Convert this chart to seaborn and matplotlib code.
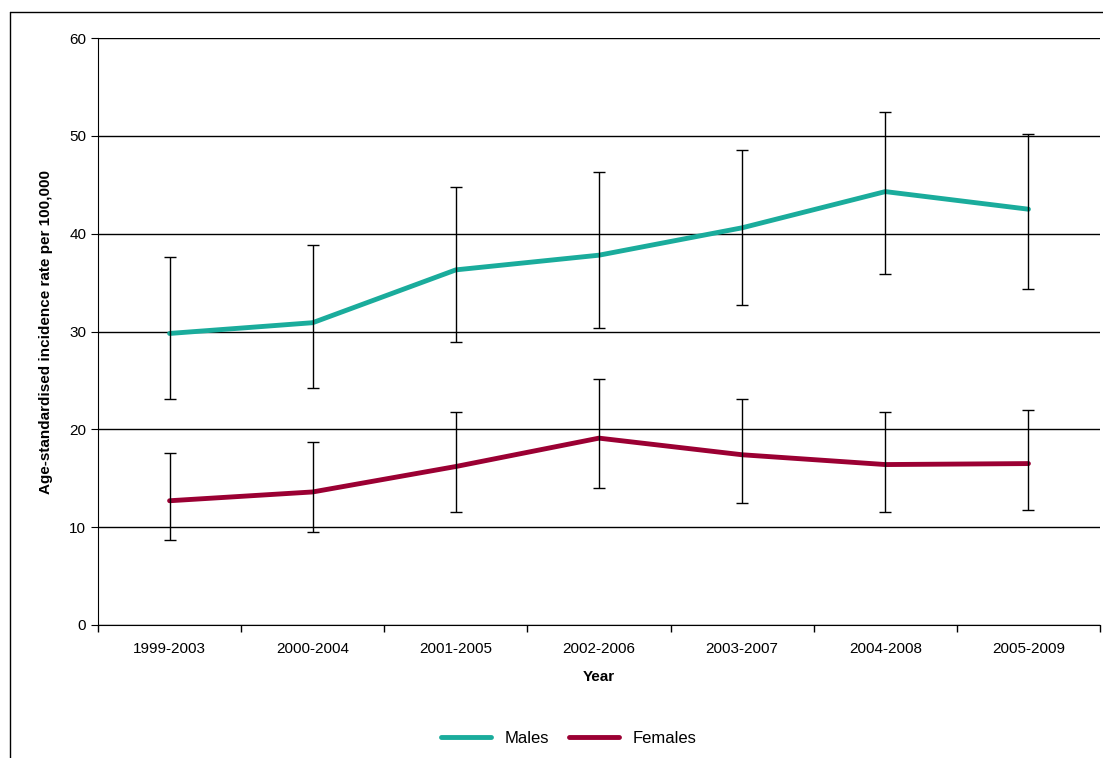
import matplotlib
matplotlib.use("Agg")
import matplotlib.pyplot as plt
import seaborn as sns
import pandas as pd
import numpy as np

years = ["1999-2003","2000-2004","2001-2005","2002-2006","2003-2007","2004-2008","2005-2009"]
males = [29.8, 30.9, 36.3, 37.8, 40.6, 44.3, 42.5]
males_lo = [23.1, 24.2, 28.9, 30.4, 32.7, 35.9, 34.3]
males_hi = [37.6, 38.8, 44.8, 46.3, 48.6, 52.4, 50.2]
females = [12.7, 13.6, 16.2, 19.1, 17.4, 16.4, 16.5]
females_lo = [8.7, 9.5, 11.6, 14.0, 12.5, 11.6, 11.8]
females_hi = [17.6, 18.7, 21.8, 25.1, 23.1, 21.8, 22.0]

sns.set_style("white")
plt.rcParams['font.family'] = ['Liberation Sans', 'DejaVu Sans']
plt.rcParams['text.color'] = 'black'
plt.rcParams['axes.labelcolor'] = 'black'
plt.rcParams['xtick.color'] = 'black'
plt.rcParams['ytick.color'] = 'black'

fig = plt.figure(figsize=(11.03, 7.58), dpi=100)
ax = fig.add_axes([98/1103, 1-625/758, 1002/1103, 587/758])

df = pd.DataFrame({"Year": years*2, "Rate": males+females,
                   "Sex": ["Males"]*7 + ["Females"]*7})
x = np.arange(len(years))
cols = {"Males": "#1AAC9C", "Females": "#9B0033"}
sns.lineplot(data=df, x="Year", y="Rate", hue="Sex", palette=cols, lw=3.5, ax=ax, sort=False)
for v, lo, hi in [(males, males_lo, males_hi), (females, females_lo, females_hi)]:
    v = np.array(v)
    ax.errorbar(x, v, yerr=[v-np.array(lo), np.array(hi)-v], fmt='none',
                ecolor='black', elinewidth=1, capsize=4, capthick=1, zorder=5)

ax.set_xlim(-0.5, 6.5)
ax.set_ylim(0, 60)
ax.set_yticks(range(0, 61, 10))
ax.yaxis.grid(True, color='black', lw=1)
ax.set_axisbelow(True)
ax.set_xticks(x)
ax.set_xticks(np.arange(-0.5, 7, 1), minor=True)
ax.tick_params(axis='x', which='major', length=0, labelsize=11, pad=12, bottom=True)
ax.tick_params(axis='x', which='minor', length=5, width=1, direction='out', color='black', bottom=True)
ax.tick_params(axis='y', length=5, direction='out', color='black', labelsize=11, left=True)
for s in ['top', 'right']:
    ax.spines[s].set_visible(False)
for s in ['left', 'bottom']:
    ax.spines[s].set_color('black')
ax.set_xlabel("Year", fontsize=11, fontweight='bold', labelpad=10)
ax.set_ylabel("Age-standardised incidence rate per 100,000", fontsize=11, fontweight='bold', labelpad=12)

h, l = ax.get_legend_handles_labels()
ax.legend(h, l, loc='upper center', bbox_to_anchor=(0.47, -0.155), ncol=2, frameon=False,
          fontsize=12, handlelength=3, columnspacing=1.2)

fig.add_artist(plt.Line2D([10/1103, 10/1103], [0, 1-12/758], color='black', lw=1))
fig.add_artist(plt.Line2D([10/1103, 1], [1-12/758, 1-12/758], color='black', lw=1))
fig.savefig("out.png", dpi=100)
